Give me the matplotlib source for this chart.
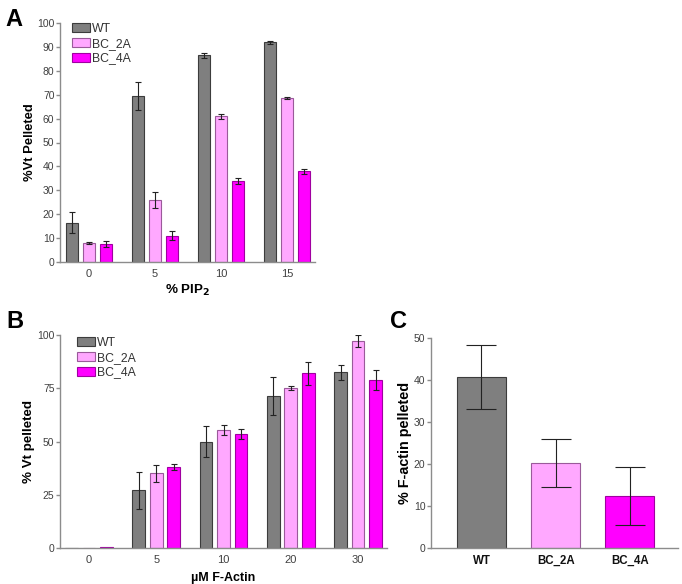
import matplotlib.pyplot as plt
import numpy as np

plt.rcParams['font.family'] = ['Liberation Sans', 'DejaVu Sans']

# Panel A data
pip2_labels = ["0", "5", "10", "15"]
a_wt = [16.5, 69.5, 86.5, 92.0]
a_wt_err = [4.5, 6.0, 1.0, 0.6]
a_2a = [8.0, 26.0, 61.0, 68.5]
a_2a_err = [0.3, 3.3, 1.0, 0.4]
a_4a = [7.5, 11.0, 34.0, 38.0]
a_4a_err = [1.3, 1.8, 1.3, 1.0]

# Panel B data
factin_labels = ["0", "5", "10", "20", "30"]
b_wt = [0.0, 27.0, 50.0, 71.5, 82.5]
b_wt_err = [0.0, 8.5, 7.5, 9.0, 3.5]
b_2a = [0.0, 35.0, 55.5, 75.0, 97.0]
b_2a_err = [0.0, 4.0, 2.3, 1.0, 2.8]
b_4a = [0.6, 38.0, 53.5, 82.0, 79.0]
b_4a_err = [0.0, 1.3, 2.3, 5.3, 4.8]

# Panel C data
c_labels = ["WT", "BC_2A", "BC_4A"]
c_vals = [40.7, 20.2, 12.3]
c_err = [7.6, 5.7, 6.9]

series_names = ["WT", "BC_2A", "BC_4A"]
fills = ["#7f7f7f", "#ffa8ff", "#ff00ff"]
edges = ["#3c3c3c", "#9a5a9a", "#a000a0"]
spine_c = "#8c8c8c"
tick_c = "#404040"

fig = plt.figure(figsize=(6.82, 5.84), dpi=100)

def style(ax):
    for s in ["top", "right"]:
        ax.spines[s].set_visible(False)
    for s in ["left", "bottom"]:
        ax.spines[s].set_color(spine_c)
        ax.spines[s].set_linewidth(1.0)
    ax.tick_params(axis="y", colors=spine_c, labelcolor=tick_c, labelsize=7.5, length=3, width=1, pad=1)
    ax.tick_params(axis="x", colors=spine_c, labelcolor=tick_c, labelsize=8, length=0, pad=5)

leg_kw = dict(loc="upper left", frameon=False, fontsize=8.8, handlelength=1.5,
              handleheight=0.75, handletextpad=0.15, labelspacing=0.22,
              borderaxespad=0, borderpad=0)

# Panel A
axA = fig.add_axes([60/682, 1-262/584, (315-60)/682, (262-23)/584])
x = np.arange(len(pip2_labels))
w = 0.18
off = 0.255
for i, (vals, errs) in enumerate([(a_wt, a_wt_err), (a_2a, a_2a_err), (a_4a, a_4a_err)]):
    axA.bar(x + (i-1)*off, vals, w, color=fills[i], edgecolor=edges[i], linewidth=0.8,
            label=series_names[i], yerr=errs, capsize=2.5,
            error_kw=dict(ecolor="#222222", elinewidth=0.8, capthick=0.8))
axA.set_xlim(-0.44, 3.42)
axA.set_ylim(0, 100)
axA.set_yticks(range(0, 101, 10))
axA.set_xticks(x)
axA.set_xticklabels(pip2_labels)
style(axA)
axA.set_ylabel("%Vt Pelleted", fontsize=9.4, fontweight="bold", labelpad=0.5)
axA.set_xlabel("% PIP$_\\mathbf{2}$", fontsize=9.6, fontweight="bold", labelpad=3)
legA = axA.legend(bbox_to_anchor=(0.047, 1.0), **leg_kw)
for t in legA.get_texts():
    t.set_color("#333333")

# Panel B
axB = fig.add_axes([60/682, 1-548/584, (387-60)/682, (548-335)/584])
x = np.arange(len(factin_labels))
w = 0.19
off = 0.26
for i, (vals, errs) in enumerate([(b_wt, b_wt_err), (b_2a, b_2a_err), (b_4a, b_4a_err)]):
    errs_plot = [e if e > 0 else np.nan for e in errs]
    axB.bar(x + (i-1)*off, vals, w, color=fills[i], edgecolor=edges[i], linewidth=0.8,
            label=series_names[i], yerr=errs_plot, capsize=2.5,
            error_kw=dict(ecolor="#222222", elinewidth=0.8, capthick=0.8))
axB.set_xlim(-0.43, 4.43)
axB.set_ylim(0, 100)
axB.set_yticks([0, 25, 50, 75, 100])
axB.set_xticks(x)
axB.set_xticklabels(factin_labels)
style(axB)
axB.set_ylabel("% Vt pelleted", fontsize=9.6, fontweight="bold", labelpad=1.5)
axB.set_xlabel("\u00b5M F-Actin", fontsize=9, fontweight="bold", labelpad=5)
legB = axB.legend(bbox_to_anchor=(0.052, 0.99), **leg_kw)
for t in legB.get_texts():
    t.set_color("#333333")

# Panel C
axC = fig.add_axes([431/682, 1-548/584, (678-431)/682, (548-338)/584])
x = np.arange(len(c_labels))
axC.bar(x, c_vals, 0.66, color=fills, edgecolor=edges, linewidth=0.8,
        yerr=c_err, capsize=11, error_kw=dict(ecolor="#222222", elinewidth=0.8, capthick=0.8))
axC.set_xlim(-0.68, 2.65)
axC.set_ylim(0, 50)
axC.set_yticks(range(0, 51, 10))
axC.set_xticks(x)
axC.set_xticklabels(c_labels, fontweight="bold")
style(axC)
axC.tick_params(axis="x", labelcolor="#111111", labelsize=8.3)
axC.set_ylabel("% F-actin pelleted", fontsize=10.4, fontweight="bold", labelpad=1)

# Panel letters
fig.text(5/682, 1-19/584, "A", fontsize=17, fontweight="bold", va="center")
fig.text(6/682, 1-322/584, "B", fontsize=17, fontweight="bold", va="center")
fig.text(390/682, 1-322/584, "C", fontsize=17, fontweight="bold", va="center")

fig.savefig("out.png", dpi=100)
